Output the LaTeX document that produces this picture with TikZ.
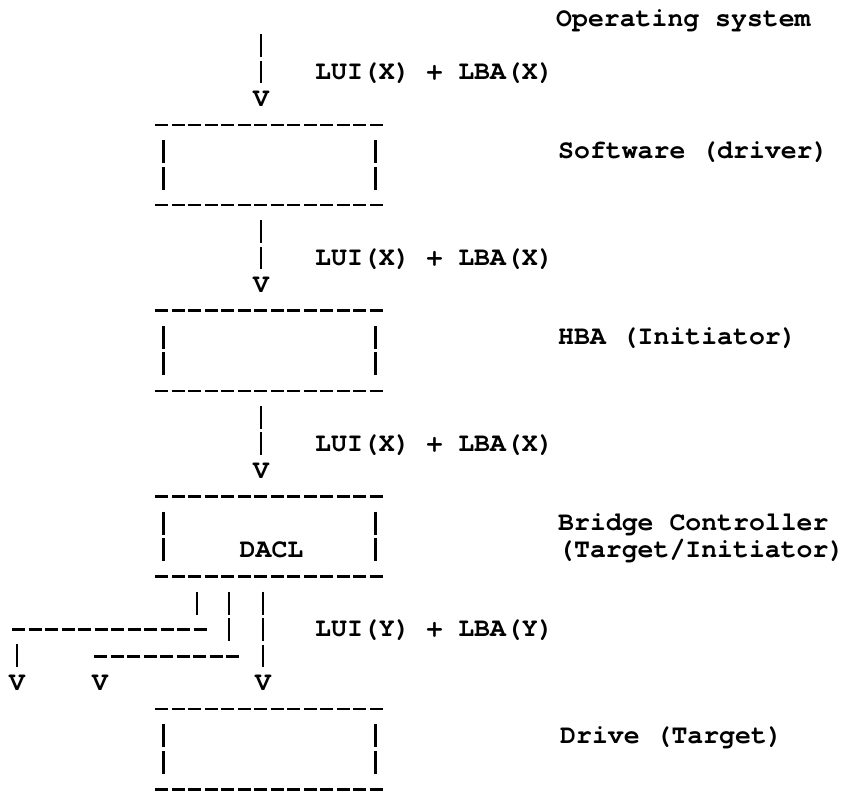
\documentclass[tikz,border=0pt]{standalone}
\usepackage{fontspec}
\usetikzlibrary{calc}
\newfontfamily\diagmono{TeX Gyre Cursor}
\newcommand\diagfont{\diagmono\bfseries\fontsize{26.5pt}{30pt}\selectfont}
\tikzset{
  hdash/.style={line width=2.8pt, dash pattern=on 13pt off 3.5pt},
  vbar/.style={line width=2.6pt, dash pattern=on 23pt off 3.55pt},
  lbl/.style={font=\diagfont, inner sep=0pt, anchor=base west, yshift=-7.2pt},
  vtip/.style={font=\diagfont, inner sep=0pt, anchor=center},
  ascbox/.style={rectangle, inner sep=0pt, minimum width=228pt, minimum height=79.65pt},
}
\newcommand\drawasciibox[1]{%
  \draw[hdash] (#1.north west) -- (#1.north east);
  \draw[hdash] (#1.south west) -- (#1.south east);
  \draw[vbar] ([xshift=8pt,yshift=-15pt]#1.north west) -- ([xshift=8pt,yshift=15pt]#1.south west);
  \draw[vbar] ([xshift=-8pt,yshift=-15pt]#1.north east) -- ([xshift=-8pt,yshift=15pt]#1.south east);
}
\begin{document}
\begin{tikzpicture}[x=1pt,y=-1pt]
\fill[white] (0,0) rectangle (855,792);
\useasboundingbox (0,0) rectangle (855,792);

% Operating system and first arrow
\node[lbl] (os) at (556,19) {Operating system};
\coordinate (src) at (261,34);
\node[vtip] (v1) at (261,98.65) {V};
\draw[vbar] (src) -- ([yshift=7.5pt]v1.north);
\node[lbl] (l1) at (315,72.1) {LUI(X) + LBA(X)};

% Software (driver)
\node[ascbox] (sw) at (269.5,165.0) {};
\drawasciibox{sw}
\node[lbl] (swl) at (558,151.75) {Software (driver)};
\node[vtip] (v2) at (261,284.5) {V};
\draw[vbar] ([xshift=-8.5pt,yshift=-15pt]sw.south) -- ([yshift=7.5pt]v2.north);
\node[lbl] (l2) at (315,257.95) {LUI(X) + LBA(X)};

% HBA
\node[ascbox] (hba) at (269.5,350.9) {};
\drawasciibox{hba}
\node[lbl] (hbal) at (558,337.6) {HBA (Initiator)};
\node[vtip] (v3) at (261,470.35) {V};
\draw[vbar] ([xshift=-8.5pt,yshift=-15pt]hba.south) -- ([yshift=7.5pt]v3.north);
\node[lbl] (l3) at (315,443.8) {LUI(X) + LBA(X)};

% Bridge controller
\node[ascbox] (br) at (269.5,536.7) {};
\drawasciibox{br}
\node[vtip] (dacl) at (271.5,550) {DACL};
\node[lbl] (brl1) at (558,523.45) {Bridge Controller};
\node[lbl] (brl2) at (558,550) {(Target/Initiator)};
\node[lbl] (l4) at (315,629.65) {LUI(Y) + LBA(Y)};

% branches below the bridge
\node[vtip] (va) at (17,682.75) {V};
\node[vtip] (vb) at (100,682.75) {V};
\node[vtip] (vc) at (263,682.75) {V};
\coordinate (a1) at ($(br.south)+(-72.5,15)$);
\coordinate (ha) at (12,629.65);
\coordinate (b1) at ($(br.south)+(-40.5,15)$);
\coordinate (hb) at (94,656.2);
\coordinate (c1) at ($(br.south)+(-6.5,15)$);
\draw[vbar] (a1) -- ++(0,23);
\draw[hdash] (ha) -- ++(194.5,0);
\draw[vbar] ($(va.north)+(0,-30.5)$) -- ([yshift=7.5pt]va.north);
\draw[vbar] (b1) -- ++(0,49.6);
\draw[hdash] (hb) -- ++(145,0);
\draw[vbar] (c1) -- ([yshift=7.5pt]vc.north);

% Drive
\node[ascbox] (drv) at (269.5,749.1) {};
\drawasciibox{drv}
\node[lbl] (drvl) at (560,735.85) {Drive (Target)};
\end{tikzpicture}
\end{document}
